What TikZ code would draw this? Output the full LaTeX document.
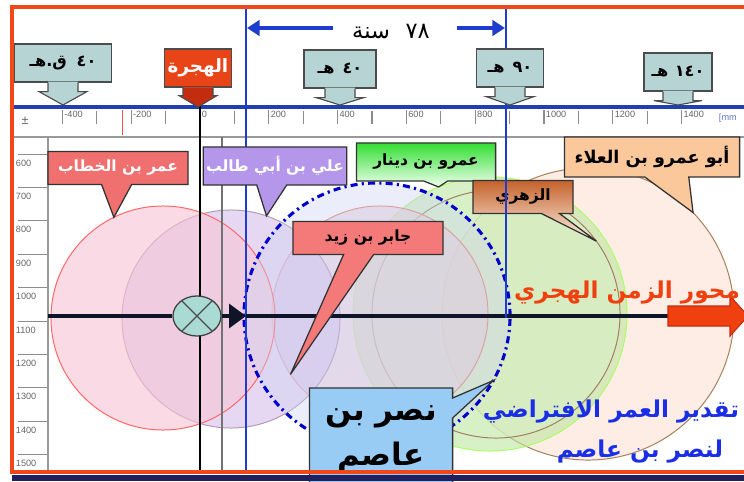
\documentclass[tikz,border=0pt]{standalone}
\usepackage{fontspec}
\setmainfont{Liberation Sans}
\newfontfamily\arabicfont[Script=Arabic]{DejaVu Sans}
\TeXXeTstate=1
\usetikzlibrary{shapes.callouts, shapes.geometric, arrows.meta, calc, positioning}
\definecolor{framered}{RGB}{240, 72, 24}
\definecolor{framenavy}{RGB}{32, 32, 96}
\definecolor{rulerblue}{RGB}{32, 64, 176}
\definecolor{linkblue}{RGB}{30, 60, 205}
\definecolor{markteal}{RGB}{183, 212, 212}
\definecolor{hijrared}{RGB}{232, 68, 24}
\definecolor{hijradark}{RGB}{196, 44, 16}
\definecolor{umarcolor}{RGB}{240, 112, 112}
\definecolor{alicolor}{RGB}{180, 150, 235}
\definecolor{amrcolor}{RGB}{50, 222, 50}
\definecolor{zuhricolor}{RGB}{196, 98, 44}
\definecolor{abuamrcolor}{RGB}{250, 200, 154}
\definecolor{jabircolor}{RGB}{244, 122, 122}
\definecolor{nasrcolor}{RGB}{153, 204, 245}
\definecolor{axisred}{RGB}{240, 64, 16}
\definecolor{axisdark}{RGB}{16, 20, 40}
\definecolor{agecolor}{RGB}{26, 46, 230}
\definecolor{umarfill}{RGB}{247, 196, 212}
\definecolor{alifill}{RGB}{214, 190, 236}
\definecolor{jabirfill}{RGB}{232, 200, 210}
\definecolor{nasrfill}{RGB}{205, 212, 245}
\definecolor{amrfill}{RGB}{190, 230, 160}
\definecolor{abuamrfill}{RGB}{252, 226, 212}
\definecolor{markerfill}{RGB}{170, 218, 212}

\begin{document}
\begin{tikzpicture}[
    x=0.025cm, y=-0.025cm,
    % ruler
    rulertick/.style={draw=black!45, line width=0.9pt},
    rulernum/.style={font=\fontsize{6.5}{7}\selectfont, text=black!60, inner sep=0.5pt},
    % date markers above the ruler
    datebox/.style={
        rectangle,
        draw=black!70, line width=0.8pt,
        fill=markteal,
        minimum height=0.95cm, inner sep=1pt,
        font=\arabicfont\bfseries\fontsize{11.5}{13}\selectfont
    },
    datearrow/.style={draw=black!70, line width=0.8pt},
    % life spans
    life/.style={circle, inner sep=0pt, outer sep=0pt, line width=0.7pt, fill opacity=0.6},
    % callouts
    person/.style={
        rectangle callout,
        draw=black!80, line width=0.9pt,
        inner sep=2pt, callout pointer width=0.75cm,
        font=\arabicfont\bfseries\fontsize{11}{13}\selectfont
    },
    % axis
    axisline/.style={line width=2.2pt, draw=axisdark},
    spanarrow/.style={-{Triangle[length=9pt,width=11pt]}, line width=2.6pt, draw=linkblue},
    guide/.style={line width=0.8pt}
]

\useasboundingbox[fill=white] (0,0) rectangle (744,481);

% ===== RULER =====
\draw[rulerblue, line width=2.2pt] (14,107) -- (744,107);
\draw[black!40, line width=0.8pt] (14,137) -- (744,137);
\draw[black!40, line width=0.8pt] (48,137) -- (48,472);
\foreach \v in {-400,-200,...,1400} {
    \draw[rulertick] ({200+0.344*\v},110) -- ++(0,14);
    \node[rulernum, anchor=north west] (xr\v) at ({201+0.344*\v},110) {\v};
}
\foreach \v in {-300,-100,...,1300}
    \draw[rulertick] ({200+0.344*\v},111) -- ++(0,13);
\draw[red!70, line width=0.6pt] (122,110) -- (122,135);
\node[font=\fontsize{9}{9}\selectfont, text=black!60] (plus) at (25,121) {±};
\node[rulernum, text=rulerblue!70, anchor=west] (unit) at (718,118) {[mm};
\foreach \v [count=\i from 0] in {600,700,...,1500} {
    \draw[rulertick, line width=0.6pt] (18,{154+33.4*\i}) -- (47,{154+33.4*\i});
    \node[rulernum, anchor=west] (yr\v) at (15,{163+33.4*\i}) {\v};
}

% ===== LIFE CIRCLES =====
\node[life, fill=abuamrfill, draw=brown!60!gray, minimum size=7.3cm] (abuamrlife) at (588,314) {};
\node[life, fill=amrfill, draw=green!40!lime!60, minimum size=6.85cm] (amrlife) at (490,314) {};
\node[life, fill=amrfill!60, draw=brown!50!gray, minimum size=6.2cm] (zuhrilife) at (496,314) {};
\node[life, fill=jabirfill, draw=red!40!brown!70, minimum size=5.4cm] (jabirlife) at (380,314) {};
\node[life, fill=alifill, draw=violet!30!gray!60, minimum size=5.45cm] (alilife) at (231,319) {};
\node[life, fill=umarfill, draw=red!60, minimum size=5.6cm] (umarlife) at (163,318) {};
\node[life, fill=nasrfill, fill opacity=0.4, draw=blue!80!black, line width=2.2pt,
      dash pattern=on 5pt off 3pt on 1.5pt off 3pt, minimum size=6.65cm] (nasrlife) at (377,316) {};

% ===== GUIDE LINES =====
\coordinate (tipline) at (0,105);
\draw[guide, black] (200,105) -- (200,472);
\draw[guide, black!55] (222,137) -- (222,472);
\draw[guide, linkblue] (246,8) -- (246,472);

% ===== HIJRI AXIS =====
\coordinate (axisstart) at (48,316);
\coordinate (arrowtip) at (246,316);
\coordinate (axisend) at (668,316);
\node[ellipse, draw=black!75, line width=0.9pt, fill=markerfill,
      minimum width=1.2cm, minimum height=1cm, inner sep=0pt] (hijramark) at (197,316) {};
\draw[black!70, line width=0.8pt] (hijramark.45) -- (hijramark.225)
    (hijramark.135) -- (hijramark.315);
\draw[axisline] (axisstart) -- (hijramark.west);
\draw[axisline, -{Triangle[length=12pt,width=17pt]}] (hijramark.east) -- (arrowtip);
\draw[axisline] (arrowtip) -- (axisend);
\draw[fill=axisred, draw=hijradark, line width=0.8pt]
    (axisend) ++(0,-10) -- ++(62,0) -- ++(0,-10) -- ++(18,20)
    -- ++(-18,20) -- ++(0,-10) -- ++(-62,0) -- cycle;

% ===== PERSON CALLOUTS =====
\node[person, fill=umarcolor, text=white, minimum width=3.5cm, minimum height=0.83cm,
      callout absolute pointer={(umarlife.116)}] (umar) at (118,168)
    {\beginR عمر بن الخطاب\endR};
\node[person, fill=alicolor, text=white, minimum width=3.5cm, minimum height=0.95cm,
      callout absolute pointer={(alilife.71)}] (ali) at (275,166)
    {\beginR علي بن أبي طالب\endR};
\node[person, top color=amrcolor, bottom color=green!6, minimum width=3.48cm, minimum height=0.95cm,
      callout pointer width=0.6cm, callout absolute pointer={(amrlife.112)}] (amr) at (426,162)
    {\beginR عمرو بن دينار\endR};
\node[person, top color=zuhricolor, bottom color=orange!10, minimum width=2.5cm, minimum height=0.83cm,
      callout pointer width=0.45cm, callout absolute pointer={(zuhrilife.36)}] (zuhri) at (523,197)
    {\beginR الزهري\endR};
\node[person, fill=abuamrcolor, minimum width=4.38cm, minimum height=1cm,
      callout pointer width=1.1cm, callout absolute pointer={(abuamrlife.44)},
      font=\arabicfont\bfseries\fontsize{12.5}{14}\selectfont] (abuamr) at (652,157)
    {\beginR أبو عمرو بن العلاء\endR};
\node[person, fill=jabircolor, minimum width=3.75cm, minimum height=0.83cm,
      callout absolute pointer={(jabirlife.214)}] (jabir) at (368,238)
    {\beginR جابر بن زيد\endR};
\node[person, fill=nasrcolor, minimum width=3.58cm, minimum height=2.55cm, align=center,
      callout pointer width=0.5cm, callout absolute pointer={(nasrlife.-29)},
      font=\arabicfont\bfseries\fontsize{22}{32}\selectfont] (nasr) at (381,439)
    {\beginR نصر بن\endR\\\beginR عاصم\endR};

\draw[guide, linkblue] (506,8) -- (506,318);

% ===== DATE MARKERS =====
\foreach \nm/\xx/\yy/\bw/\lbl in {
    bh40/63/63/97/{\beginR\beginL ٤٠\endL\hspace{0.6em}ق.هـ\endR},
    ah40/340/69/72/{\beginR\beginL ٤٠\endL\hspace{0.5em}هـ\endR},
    ah90/510/68/67/{\beginR\beginL ٩٠\endL\hspace{0.5em}هـ\endR},
    ah140/678/72/68/{\beginR\beginL ١٤٠\endL\hspace{0.4em}هـ\endR}} {
    \node[datebox, minimum width=\bw*0.025cm] (\nm) at (\xx,\yy) {\lbl};
    \fill[markteal] ($(\nm.south)+(-15,-1)$) -- ++(0,10) -- ++(-9,0) -- (\nm.south |- tipline)
        -- ($(\nm.south)+(24,9)$) -- ++(-9,0) -- ++(0,-10) -- cycle;
    \draw[datearrow] ($(\nm.south)+(-15,0)$) -- ++(0,9) -- ++(-9,0) -- (\nm.south |- tipline)
        -- ($(\nm.south)+(24,9)$) -- ++(-9,0) -- ++(0,-9);
}
\node[datebox, fill=hijrared, text=white, minimum width=1.68cm,
      font=\arabicfont\bfseries\fontsize{13}{14}\selectfont] (hijra) at (198,68) {\beginR الهجرة\endR};
\fill[hijrared] ($(hijra.south)+(-15,-1)$) rectangle ($(hijra.south)+(15,8)$);
\draw[fill=hijradark, draw=black!70, line width=0.8pt]
    ($(hijra.south)+(-15,0)$) -- ++(0,8) -- ++(-4,0) -- (hijra.south |- 0,107)
    -- ($(hijra.south)+(19,8)$) -- ++(-4,0) -- ++(0,-8);

% ===== SPAN 78 YEARS =====
\coordinate (spanleft) at (247,28);
\coordinate (spanright) at (505,28);
\node[font=\arabicfont\fontsize{16}{18}\selectfont] (span) at (391,32)
    {\beginR\beginL ٧٨\endL\hspace{0.7em}سنة\endR};
\draw[spanarrow] (span.west |- spanleft) ++(-14,0) -- (spanleft);
\draw[spanarrow] (span.east |- spanright) ++(22,0) -- (spanright);

% ===== AXIS AND AGE NOTES =====
\node[font=\arabicfont\bfseries\fontsize{16.5}{20}\selectfont, text=axisred] (axisname) at (627,293)
    {\beginR محور الزمن الهجري\endR};
\node[font=\arabicfont\bfseries\fontsize{16.5}{20}\selectfont, text=agecolor, anchor=east] (agetitle) at (744,412)
    {\beginR تقدير العمر الافتراضي\endR};
\node[font=\arabicfont\bfseries\fontsize{16.5}{20}\selectfont, text=agecolor] (agename) at (640,452)
    {\beginR لنصر بن عاصم\endR};

% ===== FRAME =====
\draw[framered, line width=2.4pt] (744,7) -- (12,7) -- (12,472) -- (744,472);
\fill[framenavy] (12,474.5) rectangle (744,481);

\end{tikzpicture}
\end{document}
